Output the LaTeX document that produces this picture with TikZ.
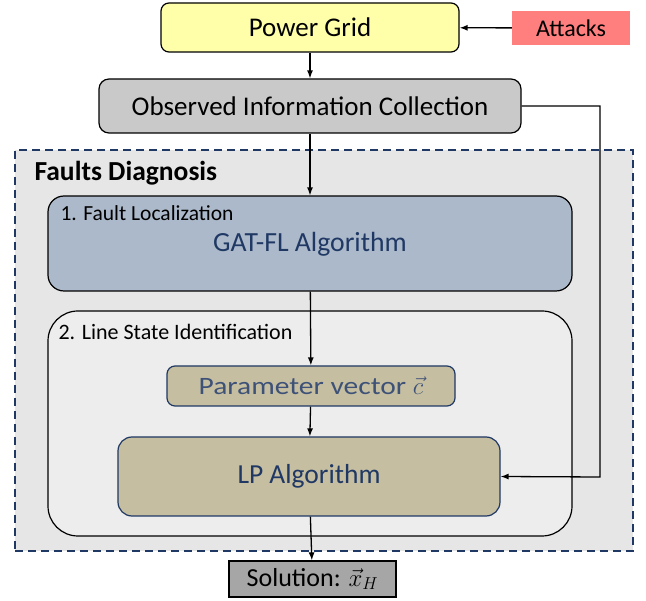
\documentclass[tikz,border=0pt]{standalone}
\usepackage{fontspec}
\setmainfont{Carlito}
\newfontfamily\semiwidefont[FakeStretch=1.18]{Carlito}
\usepackage{amsmath}
\usetikzlibrary{arrows.meta}
\definecolor{gridyellow}{HTML}{FFFFAA}
\definecolor{attackred}{HTML}{FF7F7F}
\definecolor{obsgray}{HTML}{C9C9C9}
\definecolor{diaggray}{HTML}{E6E6E6}
\definecolor{navy}{HTML}{1F3864}
\definecolor{flblue}{HTML}{ACB9CA}
\definecolor{lsgray}{HTML}{EDEDED}
\definecolor{tan}{HTML}{C6BEA1}
\definecolor{slate}{HTML}{3E5278}
\definecolor{solgray}{HTML}{A6A6A6}

\begin{document}
\begin{tikzpicture}[x=1pt, y=-1pt, >={Latex[length=8pt,width=6pt]},
    every node/.style={font=\fontsize{27}{30}\selectfont},
    box/.style={draw, line width=1.2pt, rounded corners=8pt, inner sep=0pt},
    tanbox/.style={box, draw=navy, fill=tan}]
        \useasboundingbox (0,0) rectangle (646,601);
        % outer dashed frame
        \node[draw=navy, dash pattern=on 8pt off 5pt, line width=1.3pt, fill=diaggray, minimum width=618pt, minimum height=401pt, inner sep=0pt] (diag) at (324,350.5) {};
        \node[anchor=west, font=\fontsize{27.5}{30}\selectfont\bfseries] (diagtitle) at (31,173) {Faults Diagnosis};
        % top part
        \node[box, fill=gridyellow, minimum width=298pt, minimum height=49pt] (grid) at (310,27.5) {Power Grid};
        \node[fill=attackred, minimum width=118pt, minimum height=34pt, inner sep=0pt, font=\fontsize{24}{27}\selectfont] (attacks) at (571,28) {Attacks};
        \node[box, fill=obsgray, minimum width=422pt, minimum height=54pt, rounded corners=10pt] (obs) at (310,106) {Observed Information Collection};
        % stage 1
        \node[box, fill=flblue, minimum width=524pt, minimum height=95pt, rounded corners=16pt] (fl) at (310,243.5) {};
        \node[anchor=west, font=\fontsize{21.5}{24}\selectfont] (fltitle) at (57,213) {1. Fault Localization};
        \node[text=navy, font=\fontsize{27.7}{30}\selectfont] (gat) at (310,244) {GAT-FL Algorithm};
        % stage 2
        \node[box, fill=lsgray, minimum width=524pt, minimum height=225pt, rounded corners=30pt] (ls) at (310,423.5) {};
        \node[anchor=west, font=\fontsize{22}{25}\selectfont] (lstitle) at (55,332) {2. Line State Identification};
        \node[tanbox, minimum width=288pt, minimum height=40pt, text=slate, font=\fontsize{25}{28}\semiwidefont] (param) at (311,386) {Parameter vector $\vec{c}$};
        \node[tanbox, minimum width=382pt, minimum height=79pt, rounded corners=14pt, text=navy, font=\fontsize{27.5}{30}\selectfont] (lp) at (309,476.5) {LP Algorithm};
        % output
        \node[draw, line width=1.2pt, fill=solgray, minimum width=167pt, minimum height=36pt, inner sep=0pt, font=\fontsize{26}{30}\selectfont] (sol) at (312.5,579) {Solution: $\vec{x}_H$};
        \coordinate (bendtop) at (600,106);
        \coordinate (bendlow) at (600,477);
        \draw[->, line width=1.3pt] (attacks) -- (grid);
        \draw[->, line width=1.3pt] (grid) -- (obs);
        \draw[->, line width=1.3pt] (obs) -- (fl);
        \draw[->, line width=1.3pt] (fl) -- (param);
        \draw[->, line width=1.3pt] (param) -- (lp);
        \draw[->, line width=1.3pt] (lp) -- (sol);
        \draw[->, line width=1.3pt] (obs.east) -- (bendtop) -- (bendlow) -- (lp.east);
    \end{tikzpicture}
\end{document}
